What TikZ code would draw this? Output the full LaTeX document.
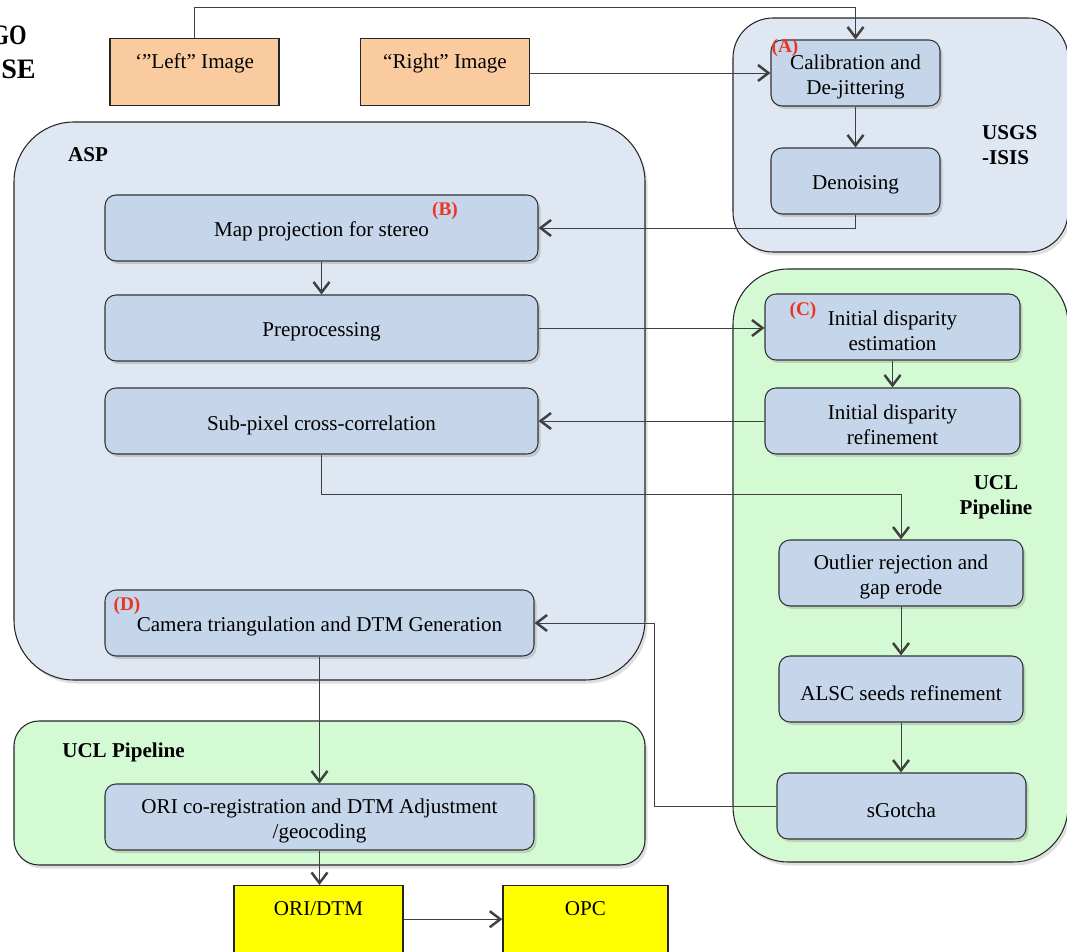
\documentclass[tikz,border=0pt]{standalone}
\usepackage{fontspec}
\setmainfont{Liberation Serif}
\usetikzlibrary{arrows.meta,shadows}

\definecolor{peach} {RGB}{251,203,160}
\definecolor{stepblue}{RGB}{197,214,234}
\definecolor{aspbg} {RGB}{223,231,242}
\definecolor{uclbg} {RGB}{212,250,212}
\definecolor{outyel}{RGB}{255,255,0}
\definecolor{tagred}{RGB}{236,52,36}

\newcommand{\lowline}{\rule{0pt}{0.44cm}}

\begin{document}
\begin{tikzpicture}[font=\fontsize{12}{14.2}\selectfont,
    stage/.style={draw=black!80,fill=stepblue,rounded corners=0.22cm,minimum height=1.32cm,
      align=center,line width=0.6pt,execute at begin node={\rule{0pt}{0.45cm}},
      drop shadow={shadow xshift=0.05cm,shadow yshift=-0.06cm,opacity=0.3}},
    group/.style={draw=black!85,line width=0.6pt,
      drop shadow={shadow xshift=0.05cm,shadow yshift=-0.07cm,opacity=0.25}},
    ioblock/.style={draw=black!85,line width=0.8pt,minimum width=3.38cm,minimum height=1.34cm,
      anchor=north,text height=0.45cm,text depth=0.6cm,inner sep=0.1cm},
    flow/.style={draw=black!75,line width=0.5pt,
      -{Straight Barb[length=2.1mm,width=3.2mm,line width=1.4pt]}},
    tag/.style={text=tagred,font=\fontsize{11}{12}\selectfont\bfseries},
    head/.style={font=\fontsize{12}{14.2}\selectfont\bfseries},
    cut/.style={anchor=east,inner sep=0pt,font=\fontsize{16}{18}\selectfont\bfseries}]

    \useasboundingbox (0,0) rectangle (21.34,19.02);

    % groups
    \draw[group,fill=aspbg,rounded corners=0.8cm] (14.66,18.66) rectangle (21.36,13.98);
    \draw[group,fill=aspbg,rounded corners=1.2cm] (0.28,16.58) rectangle (12.9,5.42);
    \draw[group,fill=uclbg,rounded corners=1.1cm] (14.66,13.64) rectangle (21.36,1.78);
    \draw[group,fill=uclbg,rounded corners=0.5cm] (0.28,4.6) rectangle (12.9,1.72);

    \node[cut] (cuta) at (0.54,18.32) {\scalebox{0.8}[1]{GO}};
    \node[cut] (cutb) at (0.72,17.64) {SE};

    % input images
    \node[ioblock,fill=peach] (left) at (3.89,18.26) {`\textquotedblright Left\textquotedblright{} Image};
    \node[ioblock,fill=peach] (right) at (8.9,18.26) {\textquotedblleft Right\textquotedblright{} Image};

    % USGS-ISIS
    \node[stage,minimum width=3.38cm] (calib) at (17.11,17.56) {\lowline Calibration and\\De-jittering};
    \node[stage,minimum width=3.38cm] (denoise) at (17.11,15.4) {Denoising};
    \node[head,anchor=west,align=left] (isis) at (19.52,16.12) {USGS\\-ISIS};
    \node[tag] (taga) at (15.7,18.06) {(A)};

    % ASP
    \node[head] (asp) at (1.76,15.92) {ASP};
    \node[stage,minimum width=8.66cm] (mapproj) at (6.43,14.46) {Map projection for stereo};
    \node[stage,minimum width=8.66cm] (preproc) at (6.43,12.46) {Preprocessing};
    \node[stage,minimum width=8.66cm] (subpix) at (6.43,10.6) {Sub-pixel cross-correlation};
    \node[stage,minimum width=8.58cm] (camera) at (6.39,6.56) {Camera triangulation and DTM Generation};
    \node[tag] (tagb) at (8.9,14.8) {(B)};
    \node[tag] (tagd) at (2.54,6.9) {(D)};

    % UCL pipeline (right)
    \node[stage,minimum width=5.1cm] (estim) at (17.85,12.48) {\lowline Initial disparity\\estimation};
    \node[stage,minimum width=5.1cm] (refine) at (17.85,10.6) {\lowline Initial disparity\\refinement};
    \node[head,align=center] (uclr) at (19.92,9.08) {UCL\\Pipeline};
    \node[stage,minimum width=4.88cm] (outlier) at (18.02,7.56) {\lowline Outlier rejection and\\gap erode};
    \node[stage,minimum width=4.88cm] (alsc) at (18.02,5.24) {ALSC seeds refinement};
    \node[stage,minimum width=4.98cm] (sgotcha) at (18.03,2.9) {sGotcha};
    \node[tag] (tagc) at (16.06,12.8) {(C)};

    % UCL pipeline (bottom)
    \node[head] (uclb) at (2.47,3.98) {UCL Pipeline};
    \node[stage,minimum width=8.58cm] (oricoreg) at (6.39,2.68) {\lowline ORI co-registration and DTM Adjustment\\/geocoding};

    % outputs
    \node[ioblock,fill=outyel] (oridtm) at (6.37,1.32) {ORI/DTM};
    \node[ioblock,fill=outyel,minimum width=3.3cm] (opc) at (11.71,1.32) {OPC};

    % connectors
    \draw[flow] (left.north) -- ++(0,0.62) -| (calib.north);
    \draw[flow] (calib.west -| right.east) -- (calib.west);
    \draw[flow] (calib) -- (denoise);
    \draw[flow] (denoise.south) |- (mapproj.east);
    \draw[flow] (mapproj) -- (preproc);
    \draw[flow] (preproc.east) -- (preproc.east -| estim.west);
    \draw[flow] (estim) -- (refine);
    \draw[flow] (refine.west) -- (subpix.east);
    \draw[flow] (subpix.south) -- ++(0,-0.8) -| (outlier.north);
    \draw[flow] (outlier) -- (alsc);
    \draw[flow] (alsc) -- (sgotcha.north -| alsc.south);
    \draw[flow] (sgotcha.west) -- ++(-2.44,0) |- (camera.east);
    \draw[flow] (camera.south) -- (camera.south |- oricoreg.north);
    \draw[flow] (oricoreg.south) -- (oricoreg.south |- oridtm.north);
    \draw[flow] (oridtm.east) -- (opc.west);

\end{tikzpicture}
\end{document}
